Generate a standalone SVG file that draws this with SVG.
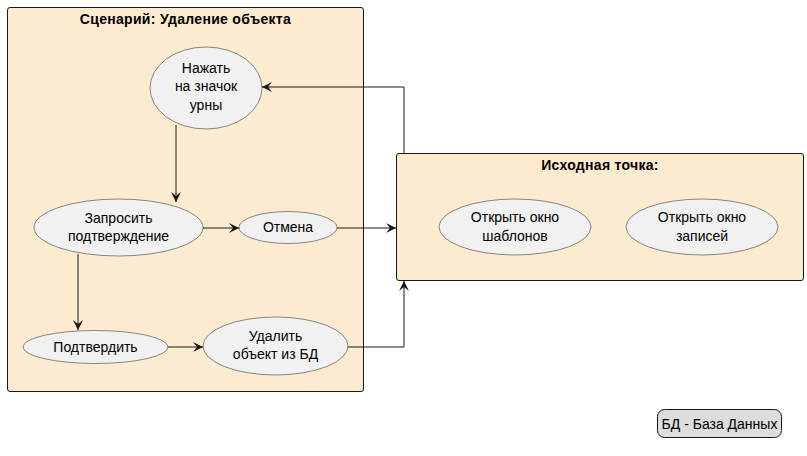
<svg xmlns="http://www.w3.org/2000/svg" width="807" height="456" viewBox="0 0 807 456">
<style>
.pkg{fill:#FDEBD0;stroke:#181818;stroke-width:1}
.uc{fill:#F1F1F1;stroke:#181818;stroke-width:0.5}
.t{font-family:"Liberation Sans",Arial,sans-serif;font-size:14px;fill:#000;text-anchor:middle}
.tb{font-family:"Liberation Sans",Arial,sans-serif;font-size:14px;font-weight:bold;letter-spacing:0.3px;fill:#000;text-anchor:middle}
.c{fill:none;stroke:#181818;stroke-width:1}
</style>
<defs>
<marker id="a" viewBox="0 0 10 10" refX="10" refY="5" markerWidth="10" markerHeight="10" markerUnits="userSpaceOnUse" orient="auto">
<path d="M0,0 L10,5 L0,10 L4,5 Z" fill="#181818"/>
</marker>
</defs>
<g id="pkg-scenario">
<rect class="pkg" x="7.5" y="7.5" width="356" height="384" rx="2.5"/>
<text class="tb" x="185.5" y="24">Сценарий: Удаление объекта</text>
</g>
<g id="pkg-start">
<rect class="pkg" x="396.5" y="153.5" width="407" height="127" rx="2.5"/>
<text class="tb" x="600" y="170">Исходная точка:</text>
</g>
<g id="uc-press">
<ellipse class="uc" cx="206" cy="88" rx="56" ry="41"/>
<text class="t" x="206" y="73">Нажать</text>
<text class="t" x="206" y="91">на значок</text>
<text class="t" x="206" y="110">урны</text>
</g>
<g id="uc-ask">
<ellipse class="uc" cx="118.5" cy="227.5" rx="84.5" ry="28.5"/>
<text class="t" x="118.5" y="223">Запросить</text>
<text class="t" x="118.5" y="241">подтверждение</text>
</g>
<g id="uc-cancel">
<ellipse class="uc" cx="288" cy="227.5" rx="49" ry="16"/>
<text class="t" x="288" y="232">Отмена</text>
</g>
<g id="uc-confirm">
<ellipse class="uc" cx="95.5" cy="347" rx="72.5" ry="16.5"/>
<text class="t" x="95.5" y="352">Подтвердить</text>
</g>
<g id="uc-delete">
<ellipse class="uc" cx="275.5" cy="346" rx="72.5" ry="29"/>
<text class="t" x="275.5" y="341">Удалить</text>
<text class="t" x="275.5" y="359">объект из БД</text>
</g>
<g id="uc-templates">
<ellipse class="uc" cx="515" cy="227" rx="76" ry="28"/>
<text class="t" x="515" y="222">Открыть окно</text>
<text class="t" x="515" y="241">шаблонов</text>
</g>
<g id="uc-records">
<ellipse class="uc" cx="702" cy="227" rx="76" ry="28"/>
<text class="t" x="702" y="222">Открыть окно</text>
<text class="t" x="702" y="241">записей</text>
</g>
<g id="legend">
<rect x="657.5" y="409.5" width="124" height="28" rx="7" fill="#DDDDDD" stroke="#181818" stroke-width="1"/>
<text class="t" x="719.5" y="429">БД - База Данных</text>
</g>
<g id="connectors">
<path class="c" d="M404,153 L404,87 L262,87" marker-end="url(#a)"/>
<path class="c" d="M176,125 L176,202" marker-end="url(#a)"/>
<path class="c" d="M203,228 L239,228" marker-end="url(#a)"/>
<path class="c" d="M337,228 L396,228" marker-end="url(#a)"/>
<path class="c" d="M78,254 L78,330" marker-end="url(#a)"/>
<path class="c" d="M168,347 L203,347" marker-end="url(#a)"/>
<path class="c" d="M348,347 L404,347 L404,281" marker-end="url(#a)"/>
</g>
</svg>
